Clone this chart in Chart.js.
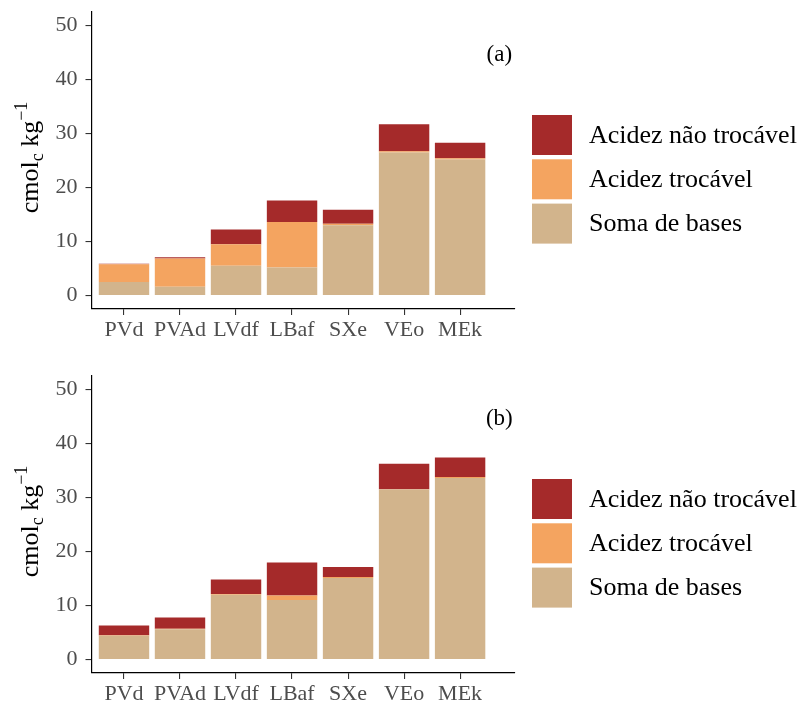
<!DOCTYPE html>
<html>
<head>
<meta charset="utf-8">
<script src="https://cdn.jsdelivr.net/npm/chart.js@4/dist/chart.umd.min.js"></script>
<style>
  html, body { margin: 0; padding: 0; overflow: hidden; background: #fff; width: 803px; height: 704px; }
  .panel { position: absolute; left: 0; width: 803px; height: 352px; }
  #wrapA { top: 0; }
  #wrapB { top: 364px; }
</style>
</head>
<body>
<div class="panel" id="wrapA"><canvas id="chartA" width="803" height="352"></canvas></div>
<div class="panel" id="wrapB"><canvas id="chartB" width="803" height="352"></canvas></div>
<script>
// Soil classes on the x axis
const soilClasses = ['PVd', 'PVAd', 'LVdf', 'LBaf', 'SXe', 'VEo', 'MEk'];
// Series names (stack order, bottom to top)
const seriesNames = ['Soma de bases', 'Acidez trocável', 'Acidez não trocável'];
// y-axis tick values (cmolc kg-1)
const yTicks = [0, 10, 20, 30, 40, 50];

// Panel (a)
const basesA   = [2.5, 1.6, 5.5, 5.2, 13.0, 26.5, 25.2];
const trocA    = [3.3, 5.25, 4.0, 8.4, 0.3, 0.2, 0.2];
const naoTrocA = [0.1, 0.25, 2.7, 4.0, 2.6, 5.0, 2.9];

// Panel (b)
const basesB   = [4.4, 5.6, 12.0, 11.0, 15.1, 31.5, 33.6];
const trocB    = [0.1, 0.1, 0.15, 0.85, 0.2, 0.05, 0.2];
const naoTrocB = [1.8, 2.1, 2.65, 6.1, 1.85, 4.7, 3.6];

const seriesColors = ['#D2B48C', '#F4A460', '#A52A2A'];
const SERIF = '"Liberation Serif", "DejaVu Serif", serif';

// Rotated y title with subscript/superscript, panel tag, and legend
const decorations = {
  id: 'decorations',
  afterDraw(chart, args, opts) {
    const ctx = chart.ctx;
    const area = chart.chartArea;
    ctx.save();

    // y-axis title: cmol_c kg^-1
    const big = 26, small = 18;
    const parts = [
      { t: 'cmol', f: big, dy: 0 },
      { t: 'c', f: small, dy: 5 },
      { t: ' kg', f: big, dy: 0 },
      { t: '\u22121', f: small, dy: -11 }
    ];
    let total = 0;
    parts.forEach(p => { ctx.font = p.f + 'px ' + SERIF; p.w = ctx.measureText(p.t).width; total += p.w; });
    ctx.translate(38, (area.top + area.bottom) / 2 - 3);
    ctx.rotate(-Math.PI / 2);
    ctx.fillStyle = '#000';
    ctx.textBaseline = 'alphabetic';
    ctx.textAlign = 'left';
    let x = -total / 2;
    parts.forEach(p => {
      ctx.font = p.f + 'px ' + SERIF;
      ctx.fillText(p.t, x, p.dy);
      x += p.w;
    });
    ctx.restore();

    // panel tag
    ctx.save();
    ctx.font = '23px ' + SERIF;
    ctx.fillStyle = '#000';
    ctx.textAlign = 'center';
    ctx.textBaseline = 'middle';
    ctx.fillText(opts.tag, chart.scales.x.getPixelForValue(7.7), chart.scales.y.getPixelForValue(44.6));
    ctx.restore();

    // legend (top item is the top of the stack)
    ctx.save();
    const keyX = 532, keyTop = 115, key = 40, pitch = 44.3;
    ctx.font = '26px ' + SERIF;
    ctx.textAlign = 'left';
    ctx.textBaseline = 'middle';
    for (let i = 0; i < seriesNames.length; i++) {
      const s = seriesNames.length - 1 - i;
      const y = keyTop + i * pitch;
      ctx.fillStyle = seriesColors[s];
      ctx.fillRect(keyX, y, key, key);
      ctx.fillStyle = '#000';
      ctx.fillText(seriesNames[s], 589, y + key / 2 + 1);
    }
    ctx.restore();
  }
};

function makeChart(id, tag, bases, troc, naoTroc) {
  const toPoints = arr => arr.map((v, i) => ({ x: i + 1, y: v }));
  const values = [bases, troc, naoTroc];
  return new Chart(document.getElementById(id), {
    type: 'bar',
    data: {
      datasets: seriesNames.map((name, k) => ({
        label: name,
        data: toPoints(values[k]),
        backgroundColor: seriesColors[k],
        borderWidth: 0,
        barPercentage: 0.9,
        categoryPercentage: 1.0
      }))
    },
    plugins: [decorations],
    options: {
      responsive: false,
      animation: false,
      devicePixelRatio: 1,
      layout: { padding: { left: 0, top: 12, right: 288, bottom: 0 } },
      plugins: {
        legend: { display: false },
        tooltip: { enabled: false },
        decorations: { tag: tag }
      },
      scales: {
        x: {
          type: 'linear',
          stacked: true,
          min: 0.42,
          max: 7.98,
          offset: false,
          afterBuildTicks: s => { s.ticks = soilClasses.map((_, i) => ({ value: i + 1 })); },
          afterFit: s => { s.height = 43; s.paddingLeft = 0; s.paddingRight = 0; },
          ticks: {
            autoSkip: false,
            maxRotation: 0,
            padding: 2,
            color: '#4D4D4D',
            font: { family: SERIF, size: 22 },
            callback: (v, i) => soilClasses[i]
          },
          grid: { display: true, offset: false, drawOnChartArea: false, drawTicks: true, tickLength: 6, color: '#333', lineWidth: 1.1 },
          border: { display: true, color: '#000', width: 1.2 }
        },
        y: {
          type: 'linear',
          stacked: true,
          min: -2.5,
          max: 52.5,
          afterBuildTicks: s => { s.ticks = yTicks.map(v => ({ value: v })); },
          afterFit: s => { s.width = 91.5; s.paddingTop = 0; s.paddingBottom = 0; },
          ticks: {
            padding: 8,
            color: '#4D4D4D',
            font: { family: SERIF, size: 22 }
          },
          grid: { display: true, offset: false, drawOnChartArea: false, drawTicks: true, tickLength: 6, color: '#333', lineWidth: 1.1 },
          border: { display: true, color: '#000', width: 1.2 }
        }
      }
    }
  });
}

makeChart('chartA', '(a)', basesA, trocA, naoTrocA);
makeChart('chartB', '(b)', basesB, trocB, naoTrocB);
</script>
</body>
</html>
